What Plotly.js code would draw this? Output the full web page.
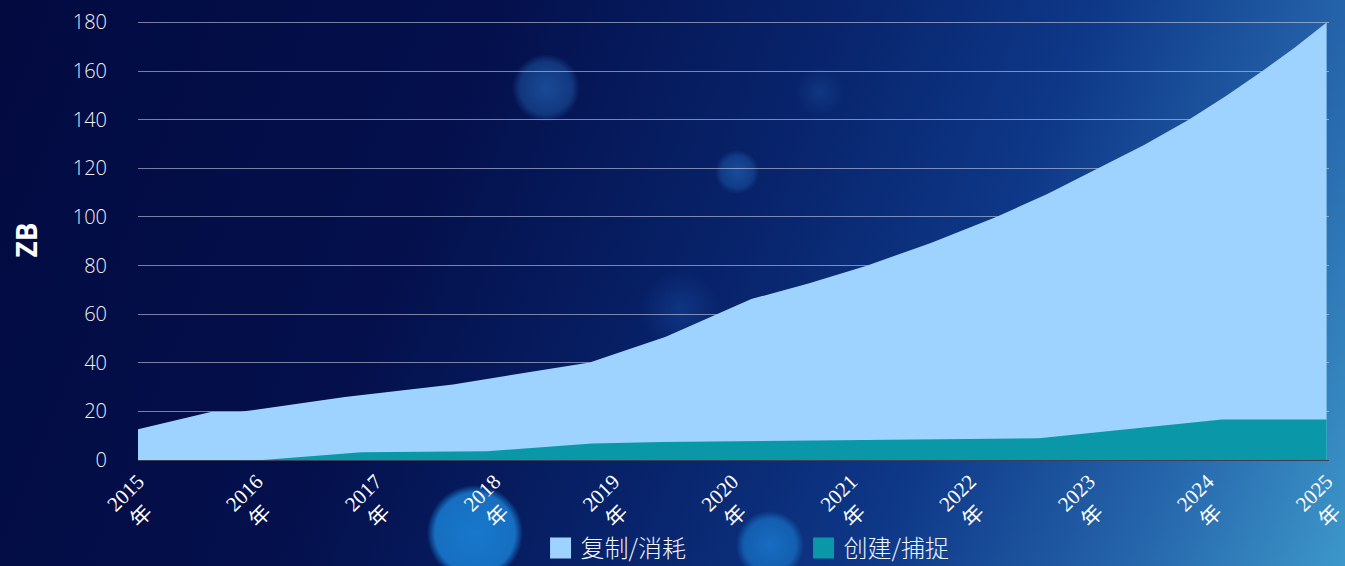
<!DOCTYPE html>
<html>
<head>
<meta charset="utf-8">
<script src="https://cdn.plot.ly/plotly-3.0.1.min.js"></script>
<style>
html, body { margin: 0; padding: 0; width: 1345px; height: 566px; overflow: hidden; }
body {
  background:
    radial-gradient(circle at 546px 88px, rgba(40,120,205,0.55) 0px, rgba(40,120,205,0.35) 26px, rgba(40,120,205,0) 34px),
    radial-gradient(circle at 737px 172px, rgba(40,120,205,0.5) 0px, rgba(40,120,205,0.3) 16px, rgba(40,120,205,0) 22px),
    radial-gradient(circle at 820px 92px, rgba(40,110,190,0.25) 0px, rgba(40,110,190,0) 25px),
    radial-gradient(circle at 475px 533px, rgba(25,125,210,0.95) 0px, rgba(25,125,210,0.85) 40px, rgba(25,125,210,0) 48px),
    radial-gradient(circle at 770px 545px, rgba(25,125,210,0.8) 0px, rgba(25,125,210,0.6) 26px, rgba(25,125,210,0) 34px),
    radial-gradient(circle at 680px 310px, rgba(30,90,180,0.35) 0px, rgba(30,90,180,0) 40px),
    linear-gradient(112deg, #020a40 0%, #04104c 32%, #08246c 54%, #0e3888 70%, #2564aa 86%, #3d97ca 100%);
}
#chart { width: 1345px; height: 566px; }
</style>
</head>
<body>
<div id="chart"></div>
<script>
// Series: 复制/消耗 (light blue)
const copyX = [2015.0, 2015.62, 2015.86, 2016.74, 2017.65, 2018.80, 2019.44, 2020.16, 2020.64, 2021.13, 2021.67, 2022.22, 2022.65, 2023.08, 2023.46, 2023.84, 2024.15, 2024.46, 2024.73, 2025.0];
const copyY = [12.7, 19.8, 19.8, 25.9, 31.1, 40.1, 50.7, 66.2, 72.6, 79.9, 89.3, 100, 109.4, 120, 129.5, 140, 149.6, 160, 169.6, 180];
// Series: 创建/捕捉 (teal)
const createX = [2015.0, 2016.05, 2016.88, 2017.94, 2018.82, 2019.40, 2022.58, 2024.12, 2025.0];
const createY = [0, 0, 3.2, 3.6, 6.8, 7.4, 8.9, 16.7, 16.7];
// Tick labels
const yearTicks = [2015, 2016, 2017, 2018, 2019, 2020, 2021, 2022, 2023, 2024, 2025];
const yearLabels = yearTicks.map(y => y + '<br>年\u00a0\u00a0\u00a0');
const yTicks = [0, 20, 40, 60, 80, 100, 120, 140, 160, 180];
const seriesNames = ['复制/消耗', '创建/捕捉'];
const colors = ['#9dd3fe', '#0a98a9'];

const traces = [
  { x: copyX, y: copyY, type: 'scatter', mode: 'lines', fill: 'tozeroy',
    fillcolor: colors[0], line: { width: 0, color: colors[0] }, showlegend: false },
  { x: createX, y: createY, type: 'scatter', mode: 'lines', fill: 'tozeroy',
    fillcolor: colors[1], line: { width: 0, color: colors[1] }, showlegend: false },
  { x: [null], y: [null], type: 'scatter', mode: 'markers', name: seriesNames[0],
    marker: { symbol: 'square', size: 16, color: colors[0], line: { width: 5, color: colors[0] } } },
  { x: [null], y: [null], type: 'scatter', mode: 'markers', name: seriesNames[1],
    marker: { symbol: 'square', size: 16, color: colors[1], line: { width: 5, color: colors[1] } } }
];

const layout = {
  width: 1345, height: 566,
  margin: { l: 138, r: 16, t: 20, b: 106, autoexpand: false },
  paper_bgcolor: 'rgba(0,0,0,0)',
  plot_bgcolor: 'rgba(0,0,0,0)',
  xaxis: {
    type: 'linear', range: [2015, 2025.02], automargin: false,
    tickmode: 'array', tickvals: yearTicks, ticktext: yearLabels, tickangle: -45,
    tickfont: { family: 'Liberation Serif, DejaVu Serif, Noto Sans CJK SC, serif', size: 21, color: '#ffffff' },
    ticklabeloverflow: 'allow',
    showgrid: false, zeroline: false,
    showline: true, linecolor: '#3a3f55', linewidth: 1,
    ticks: '', ticklabelstandoff: 0
  },
  yaxis: {
    range: [0, 181], automargin: false, tickmode: 'array', tickvals: yTicks,
    tickfont: { family: 'Open Sans, Noto Sans, sans-serif', size: 20, color: '#f0f1f5', weight: 300 },
    showgrid: true, gridcolor: 'rgba(200,205,225,0.6)', gridwidth: 1,
    zeroline: false, showline: false, ticks: '', ticklabelstandoff: 30,
    title: { text: 'ZB', font: { family: 'Open Sans, Noto Sans, sans-serif', size: 28, color: '#ffffff', weight: 700 }, standoff: 26 }
  },
  showlegend: true,
  legend: {
    orientation: 'h', x: 0.338, xanchor: 'left', y: -0.201, yanchor: 'middle',
    font: { family: 'Noto Sans CJK SC, sans-serif', size: 24, color: '#eef3fb', weight: 300 },
    bgcolor: 'rgba(0,0,0,0)', entrywidth: 218, itemsizing: 'trace'
  },
  hovermode: false
};

Plotly.newPlot('chart', traces, layout, { displayModeBar: false, staticPlot: true });
</script>
</body>
</html>
